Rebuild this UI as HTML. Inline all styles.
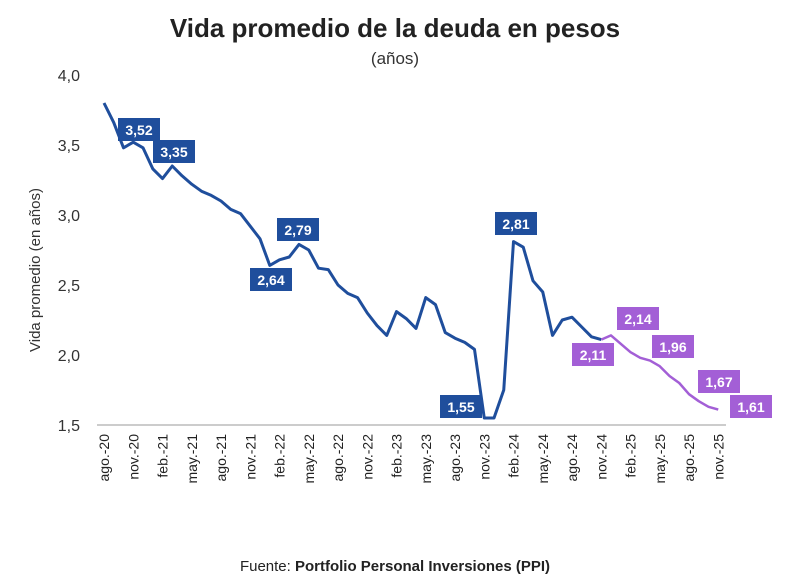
<!DOCTYPE html>
<html><head><meta charset="utf-8"><style>
body{margin:0;background:#fff;font-family:"Liberation Sans",sans-serif}
</style></head><body>
<svg width="800" height="578" viewBox="0 0 800 578" id="c" style="font-family:'Liberation Sans',sans-serif">
<text x="395" y="37" text-anchor="middle" font-size="26" font-weight="bold" fill="#222">Vida promedio de la deuda en pesos</text>
<text x="395" y="64" text-anchor="middle" font-size="17" fill="#333">(años)</text>
<text transform="translate(40,270) rotate(-90)" text-anchor="middle" font-size="15" fill="#333">Vida promedio (en años)</text>
<text x="395" y="571" text-anchor="middle" font-size="15" fill="#222">Fuente: <tspan font-weight="bold">Portfolio Personal Inversiones (PPI)</tspan></text>
<line x1="97" y1="425" x2="726" y2="425" stroke="#ccc" stroke-width="2"/>
<g id="g"></g>
</svg>
<script>
const yTicks=[1.5,2.0,2.5,3.0,3.5,4.0];
const xLabels=["ago.-20","nov.-20","feb.-21","may.-21","ago.-21","nov.-21","feb.-22","may.-22","ago.-22","nov.-22","feb.-23","may.-23","ago.-23","nov.-23","feb.-24","may.-24","ago.-24","nov.-24","feb.-25","may.-25","ago.-25","nov.-25"];
const histValues=[3.80,3.66,3.48,3.52,3.48,3.33,3.26,3.35,3.28,3.22,3.17,3.14,3.10,3.04,3.01,2.92,2.83,2.64,2.68,2.70,2.79,2.75,2.62,2.61,2.50,2.44,2.41,2.30,2.21,2.14,2.31,2.26,2.19,2.41,2.36,2.16,2.12,2.09,2.04,1.55,1.55,1.75,2.81,2.77,2.53,2.45,2.14,2.25,2.27,2.20,2.13,2.11];
const projValues=[2.11,2.14,2.08,2.02,1.98,1.96,1.92,1.85,1.80,1.72,1.67,1.63,1.61];
const projStart=51;
const labels=[[3,"3,52",118,118,"b"],[7,"3,35",153,140,"b"],[20,"2,79",277,218,"b"],[17,"2,64",250,268,"b"],[39,"1,55",440,395,"b"],[42,"2,81",495,212,"b"],[51,"2,11",572,343,"p"],[52,"2,14",617,307,"p"],[56,"1,96",652,335,"p"],[61,"1,67",698,370,"p"],[63,"1,61",730,395,"p"]];
const X=i=>104+i*9.75, Y=v=>425-(v-1.5)*140;
const g=document.getElementById('g'),NS="http://www.w3.org/2000/svg";
function mk(t,a){const e=document.createElementNS(NS,t);for(const k in a)e.setAttribute(k,a[k]);g.appendChild(e);return e;}
yTicks.forEach(v=>{const t=mk('text',{x:80,y:Y(v)+6,'text-anchor':'end','font-size':16,fill:'#333'});t.textContent=v.toFixed(1).replace('.',',');

});
xLabels.forEach((l,i)=>{const x=X(i*3);const t=mk('text',{transform:`translate(${x+5},434) rotate(-90)`,'text-anchor':'end','font-size':14,fill:'#222'});t.textContent=l;

});
const hp=mk('path',{d:histValues.map((v,i)=>(i?'L':'M')+X(i)+','+Y(v)).join(''),fill:'none',stroke:'#1f4e9c','stroke-width':3,'stroke-linejoin':'round'});


const pp=mk('path',{d:projValues.map((v,i)=>(i?'L':'M')+X(projStart+i)+','+Y(v)).join(''),fill:'none',stroke:'#a35fd6','stroke-width':2.5,'stroke-linejoin':'round'});


labels.forEach(([i,txt,x,y,c])=>{const col=c=='b'?'#1f4e9c':'#a35fd6';
const r=mk('rect',{x:x,y:y,width:42,height:23,fill:col});


const t=mk('text',{x:x+21,y:y+17,'text-anchor':'middle','font-size':14,'font-weight':'bold',fill:'#fff'});t.textContent=txt;

});
</script>
</body></html>
